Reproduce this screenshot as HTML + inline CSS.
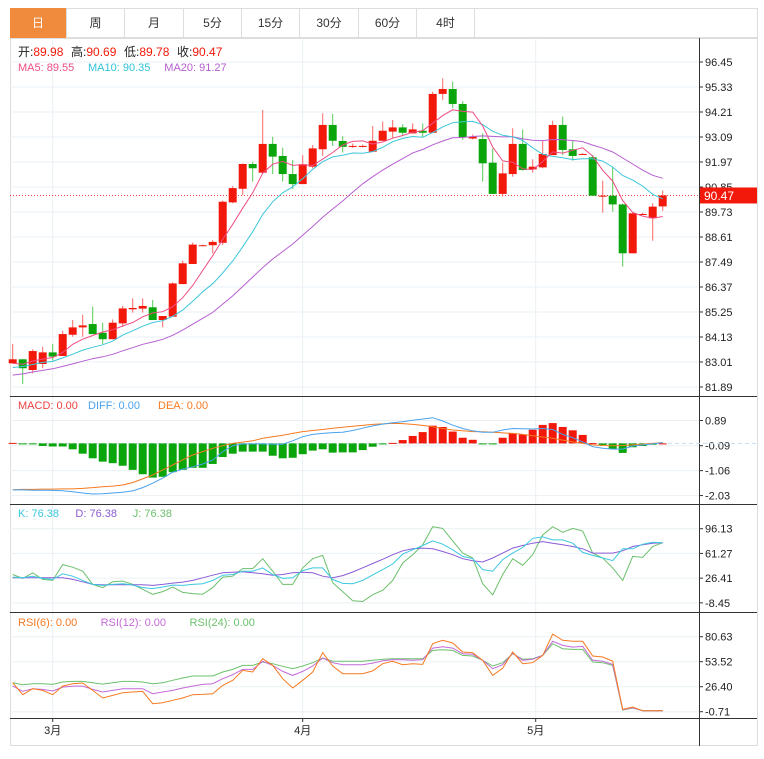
<!DOCTYPE html>
<html><head><meta charset="utf-8"><style>
body{margin:0;background:#fff;font-family:"Liberation Sans","Noto Sans CJK SC",sans-serif;}
#wrap{position:relative;width:764px;height:759px;overflow:hidden;background:#fff}
.tab{position:absolute;top:8px;height:30px;line-height:30px;text-align:center;font-size:12px;color:#333;border-right:1px solid #ddd;box-sizing:border-box}
</style></head><body>
<div id="wrap">
<div style="position:absolute;left:10px;top:8px;width:748px;height:30px;border:1px solid #ddd;box-sizing:border-box"></div>
<div class="tab" style="left:10px;width:57px;background:#f08a3c;color:#fff">日</div>
<div class="tab" style="left:67px;width:58px">周</div>
<div class="tab" style="left:125px;width:59px">月</div>
<div class="tab" style="left:184px;width:58px">5分</div>
<div class="tab" style="left:242px;width:58px">15分</div>
<div class="tab" style="left:300px;width:59px">30分</div>
<div class="tab" style="left:359px;width:58px">60分</div>
<div class="tab" style="left:417px;width:58px">4时</div>
<svg id="chart" width="764" height="759" style="position:absolute;left:0;top:0"></svg>
</div>
<script>
const opens=[82.95,83.13,82.65,82.92,83.44,83.28,84.23,84.56,84.71,84.32,84.03,84.74,85.37,85.40,85.46,84.89,85.04,86.50,87.40,88.24,88.24,88.35,90.16,90.77,91.88,91.49,92.78,92.24,91.43,90.98,91.76,92.54,93.63,92.91,92.69,92.69,92.43,92.92,93.33,93.52,93.25,93.37,93.28,95.02,95.24,94.57,93.02,93.00,91.94,90.54,91.43,92.78,91.64,91.73,92.28,93.63,92.54,92.33,92.18,90.46,90.46,90.07,87.88,89.64,89.45,89.98];
const closes=[83.13,82.73,83.50,83.44,83.25,84.26,84.56,84.65,84.26,84.03,84.77,85.41,85.43,85.52,84.89,85.07,86.53,87.43,88.27,88.24,88.39,90.19,90.80,91.88,91.69,92.78,92.21,91.43,90.98,91.87,92.58,93.63,92.92,92.65,92.69,92.69,92.92,93.37,93.52,93.28,93.43,93.28,95.02,95.24,94.57,93.08,93.11,91.91,90.54,91.46,92.78,91.61,91.76,92.33,93.63,92.51,92.24,92.33,90.46,90.46,90.07,87.88,89.67,89.64,89.97,90.47];
const highs=[83.82,83.13,83.58,83.69,83.82,84.41,84.89,85.12,85.49,84.77,84.92,85.52,85.86,85.86,85.79,85.07,86.58,87.55,88.36,88.27,88.47,90.24,90.89,91.91,91.98,94.30,93.10,92.61,92.06,92.28,92.73,94.15,94.12,93.13,92.80,92.75,93.58,93.78,93.85,93.66,93.70,93.70,95.12,95.72,95.57,94.70,93.20,93.26,92.58,91.94,93.48,93.43,92.09,92.92,93.82,94.00,92.92,92.36,92.28,91.13,91.76,90.10,89.70,89.70,90.12,90.69];
const lows=[82.95,82.02,82.50,82.73,83.07,83.28,84.14,84.14,84.26,83.82,84.03,84.59,85.22,85.22,84.89,84.56,85.04,86.50,87.40,88.20,87.88,88.25,90.12,90.49,91.09,91.49,91.43,91.09,90.75,90.98,91.69,92.24,92.69,92.39,92.60,92.62,92.43,92.92,93.03,93.18,93.25,93.08,93.28,94.75,94.38,92.96,92.98,91.09,90.54,90.42,91.31,91.58,91.49,91.69,92.28,92.28,92.03,92.30,90.46,89.70,89.74,87.28,87.88,89.60,88.44,89.78];
const priorCloses=[81.6,81.8,82.0,81.9,82.1,82.3,82.2,82.0,82.4,82.5,82.3,82.6,82.5,82.8,82.7,82.9,82.8,83.0,82.9];
const priceTicks=[96.45,95.33,94.21,93.09,91.97,90.85,89.73,88.61,87.49,86.37,85.25,84.13,83.01,81.89];
const macdHist=[0.02,-0.02,-0.02,-0.10,-0.12,-0.12,-0.23,-0.40,-0.58,-0.71,-0.77,-0.87,-1.03,-1.20,-1.33,-1.30,-1.12,-1.03,-0.95,-0.95,-0.80,-0.53,-0.40,-0.32,-0.32,-0.32,-0.48,-0.58,-0.56,-0.42,-0.28,-0.23,-0.36,-0.35,-0.35,-0.26,-0.13,-0.02,0.02,0.13,0.29,0.44,0.69,0.64,0.46,0.22,0.14,-0.01,-0.01,0.22,0.39,0.35,0.53,0.72,0.79,0.64,0.51,0.33,0.01,-0.06,-0.22,-0.37,-0.15,-0.10,-0.05,0.0];
const diffVals=[-1.81,-1.81,-1.82,-1.82,-1.83,-1.84,-1.88,-1.93,-1.97,-1.96,-1.93,-1.90,-1.85,-1.72,-1.55,-1.35,-1.12,-1.00,-0.91,-0.80,-0.65,-0.32,-0.09,-0.02,-0.02,-0.02,-0.03,-0.03,0.10,0.26,0.35,0.39,0.42,0.43,0.50,0.59,0.68,0.75,0.80,0.84,0.90,0.95,1.00,0.87,0.71,0.58,0.49,0.43,0.43,0.52,0.58,0.57,0.56,0.58,0.54,0.35,0.22,0.06,-0.13,-0.19,-0.22,-0.22,-0.10,-0.06,-0.02,0.03];
const deaVals=[-1.80,-1.79,-1.79,-1.78,-1.78,-1.77,-1.77,-1.75,-1.72,-1.69,-1.66,-1.62,-1.52,-1.38,-1.23,-1.03,-0.84,-0.64,-0.45,-0.32,-0.19,-0.09,0.00,0.05,0.10,0.20,0.26,0.32,0.39,0.46,0.50,0.54,0.59,0.63,0.67,0.70,0.74,0.76,0.78,0.77,0.74,0.70,0.65,0.58,0.52,0.49,0.46,0.45,0.43,0.41,0.39,0.35,0.30,0.25,0.20,0.13,0.06,0.00,-0.06,-0.08,-0.09,-0.08,-0.06,-0.03,0.00,0.03];
const macdTicks=[0.89,-0.09,-1.06,-2.03];
const kVals=[27.8,26.9,29.2,26.0,24.6,32.5,29.2,23.2,17.6,16.2,17.6,18.5,16.6,13.0,11.6,13.9,16.6,16.2,17.6,18.5,23.2,30.6,31.5,36.2,36.2,40.8,31.5,26.0,26.9,37.1,40.8,40.8,24.6,19.0,18.5,23.2,31.0,38.5,46.4,60.3,66.4,72.4,78.9,74.3,66.4,57.1,53.8,38.5,36.2,52.5,61.7,69.6,82.6,84.5,80.3,80.3,75.7,62.7,58.5,54.8,51.1,67.8,67.8,74.3,77.1,76.38];
const dVals=[26.9,26.9,26.9,26.9,26.9,26.9,24.6,21.3,17.6,17.2,17.0,17.0,17.0,17.0,16.2,17.6,19.4,20.8,23.2,26.9,30.6,33.9,34.8,35.3,33.9,32.5,30.6,31.5,33.9,34.8,33.9,29.2,26.9,30.0,35.0,41.0,47.0,53.0,59.4,65.0,67.8,68.7,67.8,64.0,59.4,53.8,51.0,49.2,54.8,61.7,68.7,72.4,75.7,78.0,75.7,73.4,71.0,67.8,61.7,61.7,61.7,65.0,71.0,73.4,75.7,76.38];
const jVals=[31.5,26.0,33.9,24.6,23.2,45.5,41.8,36.2,17.6,13.0,21.3,22.2,17.6,10.6,3.6,7.4,13.9,6.3,4.6,3.6,13.0,27.8,29.2,39.9,39.9,53.8,36.2,17.6,17.6,40.8,53.8,58.5,19.9,7.4,-5.6,-6.6,3.0,9.2,23.2,47.8,59.4,73.4,98.9,96.6,78.9,61.7,54.8,18.5,2.7,31.5,53.8,44.5,59.4,87.3,98.9,91.0,96.6,92.9,61.7,54.8,40.8,23.2,57.1,55.7,71.0,76.38];
const kdjTicks=[96.13,61.27,26.41,-8.45];
const rsi6=[30.7,17.7,24.2,22.4,17.7,27.1,29.7,30.4,22.4,14.1,17.0,19.9,20.6,21.3,8.0,9.0,11.6,14.1,17.7,18.1,18.8,27.8,33.3,44.1,42.3,56.8,49.5,35.1,25.0,33.3,42.3,63.3,48.8,40.5,40.5,40.5,43.5,51.4,53.9,50.3,51.4,50.6,73.0,76.7,73.8,64.0,63.3,55.0,38.7,46.6,64.0,51.4,52.4,60.4,83.5,76.7,75.6,75.6,59.7,58.6,54.2,1.8,4.4,0.4,0.4,0.4];
const rsi12=[27.1,21.3,24.2,23.5,21.7,26.0,27.1,27.1,23.5,20.6,22.4,24.2,24.2,24.2,18.8,20.6,22.4,25.0,27.1,28.9,29.7,35.1,39.4,45.2,45.2,53.9,49.5,43.0,38.7,43.0,48.8,57.5,52.4,50.3,50.3,50.3,52.0,54.5,55.7,55.7,55.0,55.7,68.3,69.8,68.3,62.2,61.5,55.0,45.9,50.3,62.6,55.0,56.1,60.4,75.6,71.2,69.4,70.1,55.0,53.9,50.6,1.5,3.6,0.4,0.4,0.4];
const rsi24=[30.7,28.6,29.7,29.7,28.9,31.5,32.1,32.1,30.7,29.2,30.7,32.1,32.1,31.5,29.7,30.7,33.3,35.8,38.0,38.0,38.0,42.3,45.2,49.5,49.5,53.2,51.4,48.5,45.9,48.8,52.4,57.5,54.2,53.9,53.9,53.9,55.0,56.1,56.8,56.8,56.8,56.8,65.8,66.5,65.8,60.4,59.7,55.0,48.8,52.4,62.2,56.1,56.8,60.4,73.0,67.6,66.9,66.9,53.2,52.4,49.5,1.1,3.3,0.4,0.4,0.4];
const rsiTicks=[80.63,53.52,26.40,-0.71];
const monthLabels=["3月","4月","5月"];
const monthIndex=[4,29,52.3];

const svg=document.getElementById('chart');
const NS='http://www.w3.org/2000/svg';
function mk(tag,attrs,parent){const e=document.createElementNS(NS,tag);for(const k in attrs)e.setAttribute(k,attrs[k]);(parent||svg).appendChild(e);return e;}
const xOf=i=>12.7+10*i;
const yP=p=>62+(96.45-p)*22.32;
const yM=v=>443.4-v*25.7;
const yK=v=>528.7+(96.13-v)*0.709;
const yR=v=>636.7+(80.63-v)*0.922;
const L=10,AX=699,R=757;
// frame
const fr=mk('rect',{x:10.5,y:38.5,width:747,height:707,fill:'none',stroke:'#ddd'});


// grids
function hgrid(ticks,fn,name){ticks.forEach(t=>{const l=mk('line',{x1:L,x2:AX,y1:fn(t),y2:fn(t),stroke:'#eaf0f4'});
const tm=mk('line',{x1:AX,x2:AX+4,y1:fn(t),y2:fn(t),stroke:'#333'});
const tx=mk('text',{x:AX+6,y:fn(t)+4,'font-size':11,fill:'#222'});tx.textContent=t.toFixed(2);});}
hgrid(priceTicks,yP,'price');hgrid(macdTicks,yM,'macd');hgrid(kdjTicks,yK,'kdj');hgrid(rsiTicks,yR,'rsi');
monthIndex.forEach((mi,k)=>{const x=xOf(mi);const l=mk('line',{x1:x,x2:x,y1:38,y2:718,stroke:'#eaf0f4'});
const tm=mk('line',{x1:x,x2:x,y1:718,y2:722,stroke:'#333'});
const t=mk('text',{x:x,y:734,'font-size':11,fill:'#222','text-anchor':'middle'});t.textContent=monthLabels[k];});
// panel separators
[[396.5,'macd-separator'],[504.5,'kdj-separator'],[612.5,'rsi-separator'],[718.5,'x-axis-line']].forEach(([y,n])=>{const l=mk('line',{x1:L,x2:R,y1:y,y2:y,stroke:'#333'});});
const va=mk('line',{x1:AX+.5,x2:AX+.5,y1:38,y2:746,stroke:'#333'});
// last price line
const lastY=yP(closes[closes.length-1]);
const dl=mk('line',{x1:L,x2:AX,y1:lastY,y2:lastY,stroke:'#f04040','stroke-dasharray':'1,2'});
const lb=mk('rect',{x:AX+1,y:lastY-8,width:57,height:16,fill:'#f2190a'});
const lt=mk('text',{x:AX+5,y:lastY+4.5,'font-size':12,fill:'#fff'});lt.textContent=closes[closes.length-1].toFixed(2);
// candles
const RED='#f2190a',GREEN='#0aa50a';
for(let i=0;i<closes.length;i++){const up=closes[i]>=opens[i];const c=up?RED:GREEN;const x=xOf(i);
const w=mk('line',{x1:x,x2:x,y1:yP(highs[i]),y2:yP(lows[i]),stroke:up?'#f66':'#5c5'});
const top=yP(Math.max(opens[i],closes[i])),bot=yP(Math.min(opens[i],closes[i]));
const b=mk('rect',{x:x-4,y:top,width:8,height:Math.max(1,bot-top),fill:c});}
// MAs
const allC=priorCloses.concat(closes);
function ma(n){return closes.map((_,i)=>{const j=i+priorCloses.length;let s=0;for(let k=j-n+1;k<=j;k++)s+=allC[k];return s/n;});}
function line(vals,fn,color,name){const d=vals.map((v,i)=>(i?'L':'M')+xOf(i).toFixed(1)+','+fn(v).toFixed(1)).join('');const p=mk('path',{d:d,fill:'none',stroke:color,'stroke-width':1});}
line(ma(20),yP,'#b65fd0','ma20-line');line(ma(10),yP,'#3cc7da','ma10-line');line(ma(5),yP,'#ee4c84','ma5-line');
// MACD
const zl=mk('line',{x1:L,x2:AX+60,y1:yM(0),y2:yM(0),stroke:'#cde','stroke-dasharray':'4,3'});
macdHist.forEach((v,i)=>{const y0=yM(0),y1=yM(v);const b=mk('rect',{x:xOf(i)-4,y:Math.min(y0,y1),width:8,height:Math.max(1,Math.abs(y1-y0)),fill:v>=0?RED:GREEN});});
line(deaVals,yM,'#f57a22','dea-line');line(diffVals,yM,'#4aa3ee','diff-line');
// KDJ
line(jVals,yK,'#6cc06c','kdj-j-line');line(dVals,yK,'#8a5cd6','kdj-d-line');line(kVals,yK,'#3cc8e0','kdj-k-line');
// RSI
line(rsi24,yR,'#6cc06c','rsi24-line');line(rsi12,yR,'#c46ad8','rsi12-line');line(rsi6,yR,'#f57a22','rsi6-line');
// legends
function legend(y,items,name){let x=18;items.forEach(([t,c])=>{const e=mk('text',{x:x,y:y,'font-size':11,fill:c});e.textContent=t;x+=t.length*6.3+7;});}
function ohlc(){let x=18;[['开:','89.98'],['高:','90.69'],['低:','89.78'],['收:','90.47']].forEach(([a,b])=>{const t=mk('text',{x:x,y:56,'font-size':12,fill:'#222'});t.textContent=a;const s=mk('tspan',{fill:'#f2190a'},t);s.textContent=b;x+=53;});}
ohlc();
legend(71,[['MA5: 89.55','#ee4c84'],['MA10: 90.35','#2fc3d8'],['MA20: 91.27','#b65fd0']],'ma-legend');
legend(409,[['MACD: 0.00','#f04040'],['DIFF: 0.00','#4aa3ee'],['DEA: 0.00','#f57a22']],'macd-legend');
legend(517,[['K: 76.38','#3cc8e0'],['D: 76.38','#8a5cd6'],['J: 76.38','#6cc06c']],'kdj-legend');
legend(626,[['RSI(6): 0.00','#f57a22'],['RSI(12): 0.00','#c46ad8'],['RSI(24): 0.00','#6cc06c']],'rsi-legend');
</script>
</body></html>
